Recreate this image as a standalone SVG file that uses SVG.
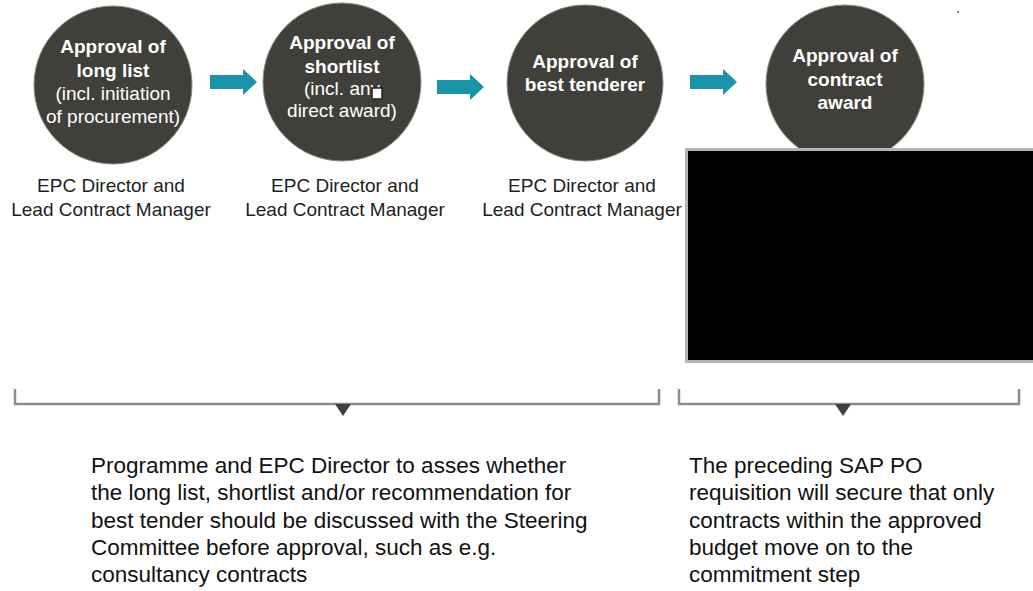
<svg xmlns="http://www.w3.org/2000/svg" width="1033" height="591" viewBox="0 0 1033 591">
<style>
.c{fill:#403f3a;stroke:#8a8a86;stroke-width:1}
.t{font-family:"Liberation Sans",Arial,sans-serif;fill:#ffffff;text-anchor:middle;font-size:19px}
.b{font-weight:bold}
.cap{font-family:"Liberation Sans",Arial,sans-serif;fill:#1e1e1e;text-anchor:middle;font-size:19px}
.note{font-family:"Liberation Sans",Arial,sans-serif;fill:#111;font-size:22.5px}
.arr{fill:#1b93a8}
.br{fill:none;stroke:#8c8c8c;stroke-width:2.5}
.tri{fill:#403f3a}
</style>
<rect width="1033" height="591" fill="#ffffff"/>
<g id="node1">
<circle class="c" cx="113" cy="85" r="79"/>
<text class="t b" x="113" y="53">Approval of</text>
<text class="t b" x="113" y="77">long list</text>
<text class="t" x="113" y="100">(incl. initiation</text>
<text class="t" x="113" y="123">of procurement)</text>
<text class="cap" x="111" y="192">EPC Director and</text>
<text class="cap" x="111" y="216">Lead Contract Manager</text>
</g>
<g id="node2">
<circle class="c" cx="342" cy="82" r="79"/>
<text class="t b" x="342" y="49">Approval of</text>
<text class="t b" x="342" y="73">shortlist</text>
<text class="t" x="342" y="95">(incl. any</text>
<rect x="372" y="88" width="10" height="11" fill="#ffffff" stroke="#222" stroke-width="1.5"/>
<text class="t" x="342" y="117">direct award)</text>
<text class="cap" x="345" y="192">EPC Director and</text>
<text class="cap" x="345" y="216">Lead Contract Manager</text>
</g>
<g id="node3">
<circle class="c" cx="585" cy="83" r="78"/>
<text class="t b" x="585" y="68">Approval of</text>
<text class="t b" x="585" y="91">best tenderer</text>
<text class="cap" x="582" y="192">EPC Director and</text>
<text class="cap" x="582" y="216">Lead Contract Manager</text>
</g>
<g id="node4">
<circle class="c" cx="845" cy="84" r="79"/>
<text class="t b" x="845" y="62">Approval of</text>
<text class="t b" x="845" y="86">contract</text>
<text class="t b" x="845" y="109">award</text>
</g>
<g id="redaction">
<rect x="686.5" y="149.5" width="350" height="212" fill="#000000" stroke="#b4b4b4" stroke-width="3"/>
</g>
<g id="connectors">
<polygon class="arr" points="210,75 243,75 243,69 257,82 243,95 243,89 210,89"/>
<polygon class="arr" points="437,80 470,80 470,74 484,87 470,100 470,94 437,94"/>
<polygon class="arr" points="690,75 723,75 723,69 737,82 723,95 723,89 690,89"/>
<path class="br" d="M15,389 V404 H659 V389"/>
<polygon class="tri" points="335,404 351,404 343,416"/>
<path class="br" d="M679,389 V404 H1019 V389"/>
<polygon class="tri" points="835,404 851,404 843,416"/>
</g>
<g id="note-left">
<text class="note" x="91" y="473">Programme and EPC Director to asses whether</text>
<text class="note" x="91" y="500">the long list, shortlist and/or recommendation for</text>
<text class="note" x="91" y="528">best tender should be discussed with the Steering</text>
<text class="note" x="91" y="555">Committee before approval, such as e.g.</text>
<text class="note" x="91" y="582">consultancy contracts</text>
</g>
<g id="note-right">
<text class="note" x="689" y="473">The preceding SAP PO</text>
<text class="note" x="689" y="500">requisition will secure that only</text>
<text class="note" x="689" y="528">contracts within the approved</text>
<text class="note" x="689" y="555">budget move on to the</text>
<text class="note" x="689" y="582">commitment step</text>
</g>
<circle cx="958" cy="12" r="1" fill="#666"/>
</svg>
